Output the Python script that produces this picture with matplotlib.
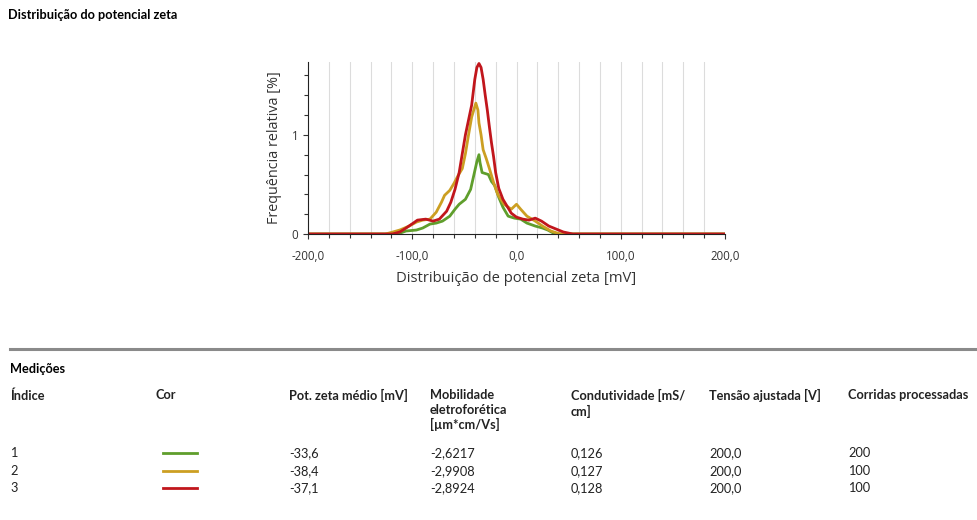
import numpy as np
import matplotlib.pyplot as plt
from matplotlib.ticker import MultipleLocator, FuncFormatter

# zeta potential distributions [mV] -> relative frequency [%]
x_green = [-200, -114, -106, -96, -90, -83, -77, -71, -64, -59, -55, -49, -44, -41, -38, -36, -35, -33, -30, -27, -24,
           -21, -17, -13, -8, -2, 4, 10, 18, 25, 30, 37, 200]
y_green = [0, 0, 0.03, 0.04, 0.06, 0.10, 0.11, 0.13, 0.18, 0.25, 0.30, 0.35, 0.45, 0.59, 0.73, 0.80, 0.72, 0.62, 0.61,
           0.60, 0.53, 0.49, 0.37, 0.27, 0.18, 0.16, 0.15, 0.11, 0.08, 0.06, 0.04, 0, 0]

x_gold = [-200, -126, -122, -112, -103, -96, -90, -83, -77, -72, -69, -64, -60, -56, -52, -49, -46, -43, -39, -37, -36,
          -34, -32, -29, -26, -22, -18, -12, -5, 0, 4, 10, 18, 25, 33, 42, 200]
y_gold = [0, 0, 0.01, 0.04, 0.08, 0.12, 0.14, 0.15, 0.22, 0.32, 0.39, 0.44, 0.51, 0.59, 0.66, 0.81, 1.0, 1.18, 1.32,
          1.25, 1.12, 1.0, 0.85, 0.76, 0.66, 0.52, 0.40, 0.30, 0.25, 0.30, 0.25, 0.18, 0.13, 0.08, 0.03, 0, 0]

x_red = [-200, -119, -112, -106, -99, -95, -87, -80, -74, -67, -63, -59, -55, -52, -49, -46, -43, -40, -38, -36, -34,
         -32, -30, -28, -26, -24, -22, -20, -17, -13, -9, -5, 0, 6, 12, 18, 24, 31, 38, 45, 54, 200]
y_red = [0, 0, 0.02, 0.06, 0.11, 0.14, 0.15, 0.13, 0.15, 0.23, 0.32, 0.45, 0.62, 0.81, 1.00, 1.15, 1.30, 1.56, 1.68,
         1.72, 1.68, 1.56, 1.40, 1.25, 1.08, 0.92, 0.78, 0.62, 0.46, 0.35, 0.28, 0.21, 0.17, 0.15, 0.14, 0.16, 0.13, 0.08,
         0.05, 0.02, 0, 0]

series = [(x_green, y_green, '#5f9e2c'), (x_gold, y_gold, '#cc9f22'), (x_red, y_red, '#c1161c')]

# table
headers = ['Índice', 'Cor', 'Pot. zeta médio [mV]', 'Mobilidade\neletroforética\n[µm*cm/Vs]',
           'Condutividade [mS/\ncm]', 'Tensão ajustada [V]', 'Corridas processadas']
indices = ['1', '2', '3']
pot_zeta = ['-33,6', '-38,4', '-37,1']
mobilidade = ['-2,6217', '-2,9908', '-2,8924']
condutividade = ['0,126', '0,127', '0,128']
tensao = ['200,0', '200,0', '200,0']
corridas = ['200', '100', '100']
cores = ['#5f9e2c', '#cc9f22', '#c1161c']

W, H = 977, 520
fig = plt.figure(figsize=(W / 100, H / 100), dpi=100)

def fx(px):
    return px / W

def fy(py):
    return 1 - py / H

ax = fig.add_axes([fx(308), fy(234), fx(725 - 308), (234 - 61.5) / H])
for xs, ys, c in series:
    ax.plot(xs, ys, color=c, lw=2.0, solid_joinstyle='round', solid_capstyle='round')

ax.set_xlim(-200, 200)
ax.set_ylim(0, 1.74)
for g in np.arange(-180, 200, 20):
    ax.axvline(g, color='#dcdcdc', lw=0.8, zorder=0)

ax.xaxis.set_major_locator(MultipleLocator(100))
ax.xaxis.set_minor_locator(MultipleLocator(20))
ax.yaxis.set_major_locator(MultipleLocator(1))
ax.yaxis.set_minor_locator(MultipleLocator(0.2))
ax.xaxis.set_major_formatter(FuncFormatter(lambda v, p: f'{v:.1f}'.replace('.', ',')))
ax.yaxis.set_major_formatter(FuncFormatter(lambda v, p: f'{v:.0f}'))
ax.tick_params(which='both', direction='out', length=3.6, width=0.8, labelsize=8.3, colors='#333333')
ax.tick_params(which='minor', length=3)
ax.tick_params(axis='x', pad=8)
for lab in ax.get_xticklabels() + ax.get_yticklabels():
    lab.set_family('Open Sans')
for s in ['top', 'right']:
    ax.spines[s].set_visible(False)
ax.spines['left'].set_color('#222222')
ax.spines['bottom'].set_color('#222222')
ax.set_xlabel('Distribuição de potencial zeta [mV]', fontsize=10.6, family='Open Sans', color='#333333', labelpad=6)
ax.set_ylabel('Frequência relativa [%]', fontsize=10.4, family='Open Sans', color='#333333', labelpad=7)

fam = ['Lato', 'DejaVu Sans']
fs = 9.2
fig.text(fx(8), fy(15), 'Distribuição do potencial zeta', fontsize=fs, weight='bold', family=fam, va='center')

fig.add_artist(plt.Line2D([fx(10), 1], [fy(349), fy(349)], color='#8a8a8a', lw=2.2))
fig.text(fx(10), fy(369), 'Medições', fontsize=fs, weight='bold', family=fam, va='center')

col_x = [10, 156, 289, 430, 571, 709, 848]
for cx, h in zip(col_x, headers):
    fig.text(fx(cx), fy(389), h, fontsize=fs, weight='bold', family=fam, va='top', linespacing=1.25, color='#222222')

row_y = [453, 471, 488]
for i, ry in enumerate(row_y):
    vals = [indices[i], None, pot_zeta[i], mobilidade[i], condutividade[i], tensao[i], corridas[i]]
    for cx, v in zip(col_x, vals):
        if v is not None:
            fig.text(fx(cx), fy(ry), v, fontsize=fs, family=fam, va='center', color='#222222')
    fig.add_artist(plt.Line2D([fx(163), fx(197)], [fy(ry), fy(ry)], color=cores[i], lw=2.0))

fig.savefig('out.png', dpi=100)
